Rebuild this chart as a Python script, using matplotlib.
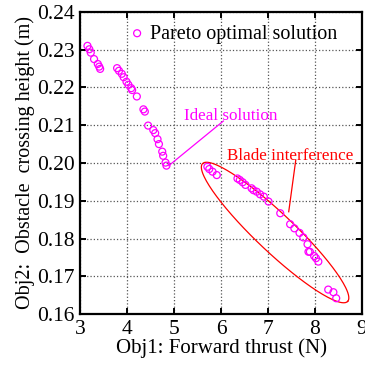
import numpy as np
import matplotlib
matplotlib.use('Agg')
from matplotlib import pyplot as plt

# Pareto front
thrust = [3.16, 3.20, 3.23, 3.30, 3.38, 3.41, 3.43,
          3.79, 3.83, 3.89, 3.93, 3.99, 4.03, 4.09, 4.11, 4.21,
          4.35, 4.38, 4.45, 4.56, 4.60, 4.65, 4.68, 4.75, 4.77, 4.82, 4.84,
          5.71, 5.75, 5.82, 5.91,
          6.35, 6.40, 6.46, 6.52, 6.65, 6.69, 6.76, 6.83, 6.91, 7.01,
          7.26, 7.47, 7.56, 7.67, 7.75, 7.84, 7.86, 7.89, 7.98, 8.02, 8.07,
          8.28, 8.39, 8.45]
height = [0.2310, 0.2301, 0.2292, 0.2275, 0.2262, 0.2255, 0.2249,
          0.2251, 0.2244, 0.2236, 0.2227, 0.2215, 0.2207, 0.2198, 0.2193, 0.2176,
          0.2142, 0.2136, 0.2099, 0.2087, 0.2079, 0.2063, 0.2050, 0.2030, 0.2019, 0.2001, 0.1993,
          0.1990, 0.1984, 0.1977, 0.1968,
          0.1959, 0.1955, 0.1949, 0.1942, 0.1933, 0.1928, 0.1924, 0.1917, 0.1911, 0.1898,
          0.1867, 0.1838, 0.1827, 0.1815, 0.1803, 0.1785, 0.1765, 0.1765, 0.1754, 0.1748, 0.1739,
          0.1665, 0.1658, 0.1642]

ideal_pt = (4.89, 0.1993)
ideal_txt = (6.05, 0.2111)
blade_txt = (7.59, 0.2008)
blade_pt = (7.44, 0.1871)

xticks = [3, 4, 5, 6, 7, 8, 9]
yticks = [0.16, 0.17, 0.18, 0.19, 0.20, 0.21, 0.22, 0.23, 0.24]

plt.rcParams['font.family'] = ['Liberation Serif', 'DejaVu Serif']
plt.rcParams['mathtext.fontset'] = 'stix'

fig = plt.figure(figsize=(3.65, 3.7), dpi=100)
ax = fig.add_axes([0.219, 0.151, 0.773, 0.817])

ax.scatter(thrust, height, s=25, facecolors='none', edgecolors='#ff00ff',
           linewidths=0.9, label='Pareto optimal solution', zorder=3)

# ellipse around the blade interference group, drawn in pixel proportions
px_x = 47.0
px_y = 3775.0
cx, cy = 7.15, 0.1816
a, b, th = 100.0, 19.0, np.deg2rad(43.5)
t = np.linspace(0, 2 * np.pi, 200)
ex = cx + (a * np.cos(th) * np.cos(t) - b * np.sin(th) * np.sin(t)) / px_x
ey = cy - (a * np.sin(th) * np.cos(t) + b * np.cos(th) * np.sin(t)) / px_y
ax.plot(ex, ey, color='red', lw=0.9, zorder=2)

ax.plot([ideal_txt[0], ideal_pt[0]], [ideal_txt[1], ideal_pt[1]], color='#ff00ff', lw=0.9)
ax.text(6.2, 0.2104, 'Ideal solution', color='#ff00ff', fontsize=12.3, ha='center', va='bottom')
ax.plot([blade_txt[0], blade_pt[0]], [blade_txt[1], blade_pt[1]], color='red', lw=0.9)
ax.text(7.48, 0.1997, 'Blade interference', color='red', fontsize=12.3, ha='center', va='bottom')

ax.set_xlim(3, 9)
ax.set_ylim(0.16, 0.24)
ax.set_xticks(xticks)
ax.set_yticks(yticks)
ax.set_yticklabels(['%.2f' % v for v in yticks])
ax.grid(True, linestyle=':', color='#555555', lw=0.9)
ax.tick_params(direction='in', top=True, right=True, labelsize=15.5, length=4, width=1.4, pad=4)
for s in ax.spines.values():
    s.set_linewidth(1.6)

ax.set_xlabel('Obj1: Forward thrust (N)', fontsize=15, labelpad=0)
ax.set_ylabel('Obj2:  Obstacle  crossing height (m)', fontsize=14.5, labelpad=1)

ax.legend(loc='upper left', bbox_to_anchor=(0.117, 1.005), frameon=False, fontsize=14.5,
          handlelength=1.0, handletextpad=0.15, borderaxespad=0.3, scatterpoints=1)

fig.savefig('out.png', dpi=100)
